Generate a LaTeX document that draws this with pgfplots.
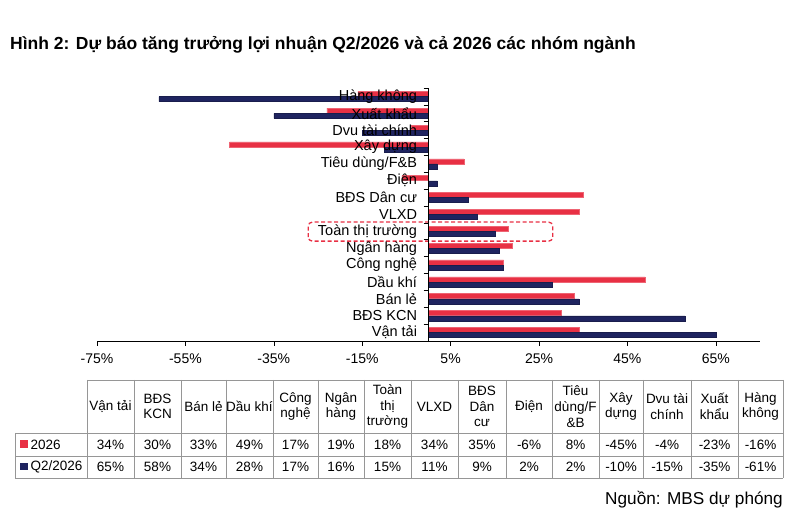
\documentclass[border=0pt]{standalone}
\usepackage{fontspec}
\setmainfont{Liberation Sans}
\usepackage{pgfplots}
\pgfplotsset{compat=1.18}
\definecolor{redc}{RGB}{232,48,68}
\definecolor{navyc}{RGB}{31,36,96}
\definecolor{gridc}{RGB}{150,150,150}

\begin{document}
\begin{tikzpicture}
\useasboundingbox (0bp,0bp) rectangle (799bp,516bp);
\node[anchor=west, font=\bfseries\fontsize{17.5bp}{20bp}\selectfont, inner sep=0pt] at (10bp,471bp) {Hình 2: Dự báo tăng trưởng lợi nhuận Q2/2026 và cả 2026 các nhóm ngành};

\begin{axis}[
  at={(97bp,175bp)}, anchor=south west,
  scale only axis, width=663bp, height=253bp,
  xmin=-75, xmax=75, ymin=-0.5, ymax=14.5,
  axis on top,
  axis x line*=bottom, axis y line*=center,
  axis line style={black, line width=0.6bp},
  xtick={-75,-55,-35,-15,5,25,45,65},
  xticklabels={-75\%,-55\%,-35\%,-15\%,5\%,25\%,45\%,65\%},
  xticklabel style={font=\fontsize{14bp}{16bp}\selectfont, yshift=-4bp},
  ytick={-0.5,0.5,...,14.5}, yticklabels={},
  extra y ticks={0,1,...,14},
  extra y tick labels={Vận tải,BĐS KCN,Bán lẻ,Dầu khí,Công nghệ,Ngân hàng,Toàn thị trường,VLXD,BĐS Dân cư,Điện,Tiêu dùng/F\&B,Xây dựng,Dvu tài chính,Xuất khẩu,Hàng không},
  extra y tick style={major tick length=0pt, yticklabel style={font=\fontsize{14.5bp}{16bp}\selectfont, anchor=east, xshift=-8bp}},
  tick align=outside, major tick length=5bp,
  tick style={black, line width=0.6bp},
  clip=false,
]
% 2026
\addplot[xbar, bar width=5bp, bar shift=2.6bp, fill=redc, draw=redc!75!white, line width=0.5bp]
  coordinates {(34,0) (30,1) (33,2) (49,3) (17,4) (19,5) (18,6) (34,7) (35,8) (-6,9) (8,10) (-45,11) (-4,12) (-23,13) (-16,14)};
% Q2/2026
\addplot[xbar, bar width=5bp, bar shift=-2.6bp, fill=navyc, draw=navyc!80!black, line width=0.5bp]
  coordinates {(65,0) (58,1) (34,2) (28,3) (17,4) (16,5) (15,6) (11,7) (9,8) (2,9) (2,10) (-10,11) (-15,12) (-35,13) (-61,14)};
\draw[redc, line width=1.3bp, dash pattern=on 4bp off 2.5bp, rounded corners=4bp]
  (axis cs:-27.2,5.42) rectangle (axis cs:28.1,6.55);
\end{axis}

% data table
\begin{scope}[gridc, line width=0.8bp]
  \draw (87bp,136bp) -- (783bp,136bp);
  \draw (15bp,83bp) -- (783bp,83bp);
  \draw (15bp,60bp) -- (783bp,60bp);
  \draw (15bp,38bp) -- (783bp,38bp);
  \draw (15bp,83bp) -- (15bp,38bp);
  \foreach \e in {87,134,181,226,273,318,364,411,458,506,552,599,643,691,738,783}
    \draw (\e bp,136bp) -- (\e bp,38bp);
\end{scope}
\foreach \cx/\h/\a/\b in {
  110.5/{Vận tải}/34/65,
  157.5/{BĐS\\KCN}/30/58,
  203.5/{Bán lẻ}/33/34,
  249.5/{Dầu khí}/49/28,
  295.5/{Công\\nghệ}/17/17,
  341/{Ngân\\hàng}/19/16,
  387.5/{Toàn\\thị\\trường}/18/15,
  434.5/{VLXD}/34/11,
  482/{BĐS\\Dân\\cư}/35/9,
  529/{Điện}/-6/2,
  575.5/{Tiêu\\dùng/F\\\&B}/8/2,
  621/{Xây\\dựng}/-45/-10,
  667/{Dvu tài\\chính}/-4/-15,
  714.5/{Xuất\\khẩu}/-23/-35,
  760.5/{Hàng\\không}/-16/-61}{
  \node[align=center, inner sep=0pt, font=\fontsize{13.5bp}{15.7bp}\selectfont] at (\cx bp,109.5bp) {\h};
  \node[inner sep=0pt, font=\fontsize{13.5bp}{15.5bp}\selectfont] at (\cx bp,71.5bp) {\a\%};
  \node[inner sep=0pt, font=\fontsize{13.5bp}{15.5bp}\selectfont] at (\cx bp,49bp) {\b\%};
}
\fill[redc] (20bp,68bp) rectangle (27.5bp,75.5bp);
\fill[navyc] (20bp,45.5bp) rectangle (27.5bp,53bp);
\node[anchor=west, inner sep=0pt, font=\fontsize{13.5bp}{15.5bp}\selectfont] at (30.5bp,71.5bp) {2026};
\node[anchor=west, inner sep=0pt, font=\fontsize{13.5bp}{15.5bp}\selectfont] at (30.5bp,49bp) {Q2/2026};

\node[anchor=east, inner sep=0pt, font=\fontsize{17.2bp}{19bp}\selectfont] at (783bp,16bp) {Nguồn: MBS dự phóng};
\end{tikzpicture}
\end{document}
